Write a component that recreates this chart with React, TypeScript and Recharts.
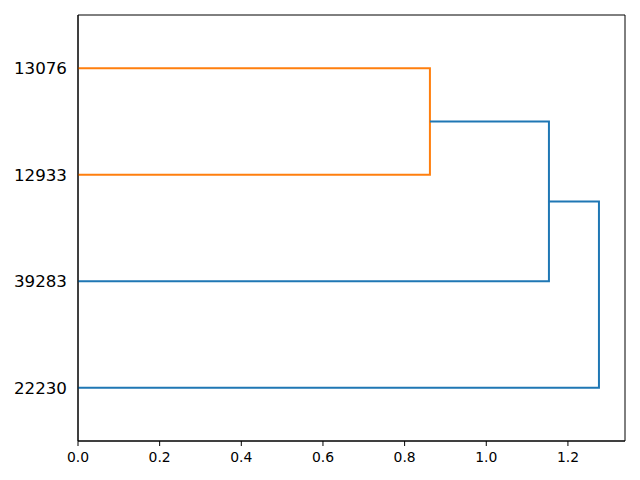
import { ComposedChart, Line, XAxis, YAxis, ReferenceArea } from "recharts";

// leaf labels, bottom to top, at positions 5, 15, 25, 35
const leafLabels = ["22230", "39283", "12933", "13076"];
const leafPos = [5, 15, 25, 35];

// dendrogram links (scipy style): icoord = leaf axis, dcoord = distance
const icoord = [
  [35, 35, 25, 25],
  [30, 30, 15, 15],
  [22.5, 22.5, 5, 5],
];
const dcoord = [
  [0, 0.862, 0.862, 0],
  [0.862, 1.1535, 1.1535, 0],
  [1.1535, 1.276, 1.276, 0],
];
const linkColors = ["#ff7f0e", "#1f77b4", "#1f77b4"];

const xTicks = [0, 0.2, 0.4, 0.6, 0.8, 1.0, 1.2];
const xMax = 1.276 * 1.05;

const links = icoord.map((ic, i) =>
  ic.map((y, j) => ({ x: dcoord[i][j], y }))
);

const font = "DejaVu Sans, sans-serif";

export default function App() {
  return (
    <div style={{ position: "absolute", left: 0, top: 0, background: "#fff" }}>
      <ComposedChart
        width={640}
        height={480}
        margin={{ top: 15, right: 15, bottom: 0, left: 0 }}
      >
        <XAxis
          type="number"
          dataKey="x"
          domain={[0, xMax]}
          ticks={xTicks}
          tickFormatter={(v: number) => v.toFixed(1)}
          allowDataOverflow
          height={39}
          stroke="#000"
          tickSize={5}
          tickMargin={6}
          tick={{ fill: "#000", fontSize: 13.9, fontFamily: font }}
        />
        <YAxis
          type="number"
          dataKey="y"
          domain={[0, 40]}
          ticks={leafPos}
          tickFormatter={(v: number) => leafLabels[leafPos.indexOf(v)] ?? ""}
          width={78}
          stroke="#000"
          tickLine={false}
          tickSize={5}
          tickMargin={6}
          tick={{ fill: "#000", fontSize: 16.7, fontFamily: font }}
        />
        <ReferenceArea
          x1={0}
          x2={xMax}
          y1={0}
          y2={40}
          fill="none"
          fillOpacity={0}
          stroke="#000"
          strokeWidth={1}
          ifOverflow="extendDomain"
        />
        {links.map((pts, i) => (
          <Line
            key={i}
            data={pts}
            dataKey="y"
            type="linear"
            stroke={linkColors[i]}
            strokeWidth={2}
            dot={false}
            activeDot={false}
            isAnimationActive={false}
          />
        ))}
      </ComposedChart>
    </div>
  );
}
